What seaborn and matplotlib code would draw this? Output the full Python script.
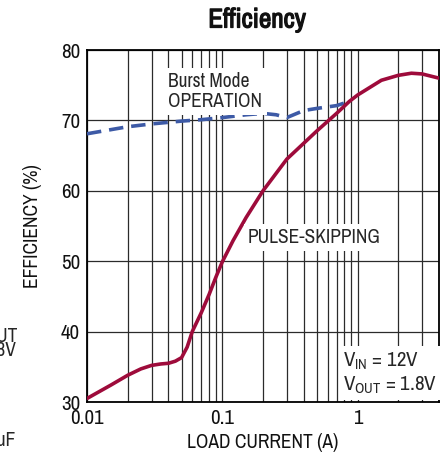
import matplotlib
matplotlib.use("Agg")
import matplotlib.pyplot as plt
import matplotlib.ticker as mticker
import matplotlib.patheffects as pe
from matplotlib import font_manager
import numpy as np
import pandas as pd
import seaborn as sns

# Burst Mode operation efficiency vs load current
burst_current = [0.01, 0.02, 0.03, 0.05, 0.07, 0.1, 0.15, 0.2, 0.25, 0.3, 0.4, 0.5, 0.7, 0.87]
burst_eff = [68.1, 69.1, 69.5, 69.9, 70.1, 70.4, 70.8, 71.0, 70.8, 70.4, 71.4, 71.7, 72.1, 72.7]

# Pulse-skipping efficiency vs load current
pulse_current = [0.01, 0.015, 0.02, 0.025, 0.03, 0.035, 0.04, 0.045, 0.05, 0.055, 0.06, 0.07,
                 0.08, 0.09, 0.1, 0.12, 0.15, 0.2, 0.3, 0.5, 0.7, 0.87, 1.0, 1.5, 2.0, 2.5,
                 3.0, 4.0]
pulse_eff = [30.5, 32.4, 33.8, 34.7, 35.2, 35.4, 35.5, 35.8, 36.3, 37.8, 40.0, 42.7,
             45.3, 47.8, 49.9, 52.9, 56.2, 60.0, 64.5, 68.5, 71.0, 72.7, 73.6, 75.7, 76.4,
             76.7, 76.6, 76.0]

y_ticks = [30, 40, 50, 60, 70, 80]
x_ticks = [0.01, 0.1, 1]
x_tick_labels = ["0.01", "0.1", "1"]

sns.set_theme(style="white")

# prefer a narrow sans face for the datasheet look
font_entries = font_manager.fontManager.ttflist
families = sorted({f.name for f in font_entries})
narrow = next((n for n in families if "Narrow" in n or "Condensed" in n), None)
base = [narrow] if narrow else []
plt.rcParams["font.family"] = base + ["Roboto", "DejaVu Sans"]
plt.rcParams["font.stretch"] = "condensed"
plt.rcParams["mathtext.fontset"] = "custom"
plt.rcParams["mathtext.rm"] = narrow or "Roboto"

bold_file = next((f.fname for f in font_entries
                  if narrow and f.name == narrow and f.weight in ("bold", 700)
                  and f.style == "normal"), None)

burst_df = pd.DataFrame({"current": burst_current, "eff": burst_eff})
pulse_df = pd.DataFrame({"current": pulse_current, "eff": pulse_eff})

fig = plt.figure(figsize=(4.47, 4.57), dpi=100)
ax = fig.add_axes([87 / 447, 1 - 402 / 457, (439 - 87) / 447, (402 - 50) / 457])

ax.set_xscale("log")
ax.set_xlim(0.01, 4.0)
ax.set_ylim(30, 80)

grid_color = "#2b2b2b"
ax.grid(True, which="both", axis="x", color=grid_color, linewidth=0.9)
ax.grid(True, which="major", axis="y", color=grid_color, linewidth=0.9)
ax.xaxis.set_minor_locator(mticker.LogLocator(base=10, subs=np.arange(2, 10)))
ax.xaxis.set_minor_formatter(mticker.NullFormatter())
ax.set_xticks(x_ticks)
ax.set_xticklabels(x_tick_labels)
ax.set_yticks(y_ticks)
ax.tick_params(axis="both", which="both", length=0, labelsize=15, colors="#111111", pad=5)
ax.set_axisbelow(True)

for s in ax.spines.values():
    s.set_color("black")
    s.set_linewidth(1.3)

sns.lineplot(data=burst_df, x="current", y="eff", ax=ax, color="#3d5aa6",
             linewidth=2.6, linestyle=(0, (4.0, 2.2)), zorder=3)
sns.lineplot(data=pulse_df, x="current", y="eff", ax=ax, color="#9e0b3b",
             linewidth=2.6, zorder=4)

ax.set_xlabel("LOAD CURRENT (A)", fontsize=14, color="#111111", va="center")
ax.xaxis.set_label_coords(0.5, (402 - 443) / 352)
ax.set_ylabel("EFFICIENCY (%)", fontsize=14, color="#111111", va="center")
ax.yaxis.set_label_coords((32 - 87) / 352, 0.5)

box = dict(facecolor="white", edgecolor="none", pad=3)
ax.text(0.040, 76.9, "Burst Mode\nOPERATION", fontsize=14, ha="left", va="top",
        linespacing=1.1, bbox=box, zorder=5)
ax.text(0.155, 53.4, "PULSE-SKIPPING", fontsize=14, ha="left", va="center",
        bbox=box, zorder=5)
ax.text(0.78, 30.9, "V$_{\\mathregular{IN}}$ = 12V\nV$_{\\mathregular{OUT}}$ = 1.8V", fontsize=15,
        ha="left", va="bottom", linespacing=1.15, bbox=box, zorder=5)

if bold_file:
    title_font = font_manager.FontProperties(fname=bold_file, size=19)
    fig.text(257 / 447, 1 - 20 / 457, "Efficiency", fontproperties=title_font,
             ha="center", va="center", color="#111111")
else:
    fig.text(257 / 447, 1 - 20 / 457, "Efficiency", fontsize=19.5, fontweight="bold",
             ha="center", va="center", color="#111111",
             path_effects=[pe.withStroke(linewidth=0.9, foreground="#111111")])

# neighbouring panel text cut off at the left edge
fig.text(18 / 447, 1 - 336 / 457, "VOUT", fontsize=14, ha="right", va="center")
fig.text(16 / 447, 1 - 351 / 457, "1.8V", fontsize=14, ha="right", va="center")
fig.text(16 / 447, 1 - 440 / 457, "22µF", fontsize=14, ha="right", va="center")

fig.savefig("out.png", dpi=100)
